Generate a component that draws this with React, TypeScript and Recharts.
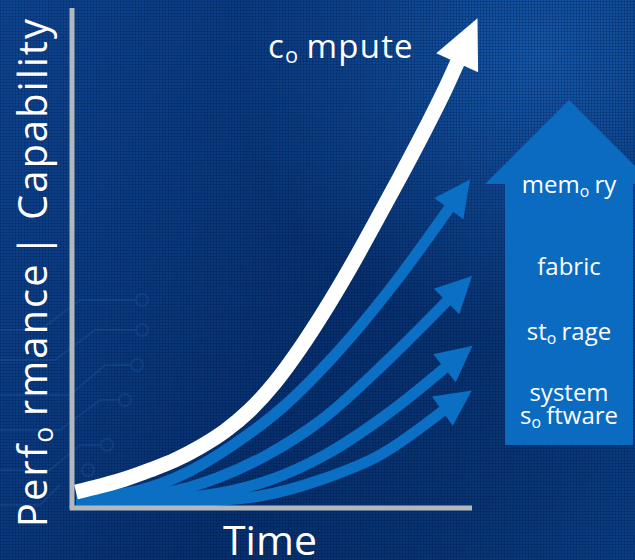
import React from 'react';
import { LineChart, Line, XAxis, YAxis, ReferenceLine, Customized } from 'recharts';

// time (0-100) and relative capability (0-100) for every trend line
const computeTime = [1, 7, 13.25, 19.5, 25.75, 32, 38.25, 44.5, 50.75, 57, 63.25, 69.5, 75.75, 82, 88.25, 93.25, 96.5];
const computeValue = [3.2, 4.4, 5.8, 7.6, 9.6, 12.2, 15.4, 19.6, 25.1, 31.9, 39.6, 48, 57, 66.2, 75.7, 83.7, 89.4];

const memoryTime = [1, 12, 22, 29.5, 40.25, 52.75, 65.25, 81.25, 94.5];
const memoryValue = [2.2, 2.8, 4.8, 7.4, 12.6, 20.2, 30.2, 45.6, 60.2];

const fabricTime = [1, 17, 29.5, 36.25, 48.75, 62, 79.5, 94];
const fabricValue = [1.8, 2.4, 4.2, 6, 10.6, 17.4, 30, 41.6];

const storageTime = [1, 22, 37, 49.5, 63.25, 79.5, 93.5];
const storageValue = [1.4, 1.8, 3, 5.6, 10.6, 19.2, 28.2];

const softwareTime = [1, 32, 47, 62, 77, 93];
const softwareValue = [1, 1.4, 2.4, 5.6, 10.6, 19.6];

const stackLabels = ['memory', 'fabric', 'storage', 'system software'];

const toRows = (t: number[], v: number[]) => t.map((x, i) => ({ t: x, v: v[i] }));

const WHITE = '#ffffff';
const BLUE = '#0b6fc4';
const AXIS = '#b3b8bd';
const FONT = '"Open Sans", "Noto Sans", sans-serif';

// the source font draws some "o" glyphs as small lowered letters
const subO = (text: string, size: number) => {
  const i = text.indexOf('o');
  if (i < 0) return text;
  return [
    <tspan key="a">{text.slice(0, i)}</tspan>,
    <tspan key="b" fontSize={size * 0.66} dy={size * 0.15}>o</tspan>,
    <tspan key="c" dx={size * 0.22} dy={-size * 0.15}>{text.slice(i + 1)}</tspan>,
  ];
};

// arrowhead on the last point of a line, pointing along the curve
const arrowHead = (len: number, half: number, color: string) => (props: any) => {
  const { index, cx, cy, points } = props;
  const n = points ? points.length : 0;
  if (!points || index !== n - 1 || n < 2) return <g key={`d-${index}`} />;
  const prev = points[n - 2];
  const dx = cx - prev.x;
  const dy = cy - prev.y;
  const d = Math.hypot(dx, dy) || 1;
  const ux = dx / d;
  const uy = dy / d;
  const pts = [
    [cx + ux * len, cy + uy * len],
    [cx - uy * half - ux * 2, cy + ux * half - uy * 2],
    [cx + uy * half - ux * 2, cy - ux * half - uy * 2],
  ]
    .map((p) => p.join(','))
    .join(' ');
  return <polygon key={`d-${index}`} points={pts} fill={color} />;
};

// faint circuit traces in the background
const Traces = () => (
  <g fill="none" stroke="#2a63ad" strokeOpacity={0.25} strokeWidth={2}>
    <path d="M0,330 L40,330 L80,300 L135,300" />
    <circle cx={142} cy={300} r={6} />
    <path d="M0,360 L55,360 L95,330 L135,330" />
    <circle cx={142} cy={330} r={6} />
    <path d="M0,395 L70,395 L105,365 L130,365" />
    <circle cx={137} cy={365} r={6} />
    <path d="M0,430 L60,430 L100,400 L118,400" />
    <circle cx={125} cy={400} r={6} />
    <path d="M0,470 L50,470 L80,445 L100,445" />
    <circle cx={107} cy={445} r={6} />
    <path d="M0,505 L40,505 L60,485" />
    <circle cx={88} cy={470} r={6} />
  </g>
);

const Decor = () => {
  const labelY = [193, 275, 340];
  return (
    <g fontFamily={FONT} fill={WHITE}>
      <polygon
        points="485,184 569,100 653,184 633,184 633,445 505,445 505,184"
        fill="#0a6bc0"
      />
      {stackLabels.slice(0, 3).map((s, i) => (
        <text key={s} x={569} y={labelY[i]} textAnchor="middle" fontSize={24}>
          {subO(s, 24)}
        </text>
      ))}
      <text x={569} y={401} textAnchor="middle" fontSize={24}>system</text>
      <text x={569} y={424} textAnchor="middle" fontSize={24}>
        {subO('software', 24)}
      </text>
      <text x={268} y={58} fontSize={33} letterSpacing={1.2}>
        {subO('compute', 33)}
      </text>
      <text
        transform="translate(47,272) rotate(-90)"
        textAnchor="middle"
        fontSize={40}
        letterSpacing={2}
      >
        {subO('Performance', 40)}
        <tspan dx={6}>|  Capability</tspan>
      </text>
      <text x={270} y={555} textAnchor="middle" fontSize={41}>
        Time
      </text>
    </g>
  );
};

export default function App() {
  const series = [
    { key: 'software', rows: toRows(softwareTime, softwareValue) },
    { key: 'storage', rows: toRows(storageTime, storageValue) },
    { key: 'fabric', rows: toRows(fabricTime, fabricValue) },
    { key: 'memory', rows: toRows(memoryTime, memoryValue) },
  ];

  return (
    <div
      style={{
        position: 'absolute',
        left: 0,
        top: 0,
        width: 635,
        height: 560,
        overflow: 'hidden',
        background:
          'repeating-linear-gradient(0deg, rgba(0,10,40,0.18) 0 1px, transparent 1px 3px),' +
          'repeating-linear-gradient(90deg, rgba(0,10,40,0.18) 0 1px, transparent 1px 3px),' +
          'radial-gradient(ellipse at 85% 10%, #1456a8 0%, rgba(20,86,168,0) 40%),' +
          'linear-gradient(120deg, #0d4693 0%, #093a80 30%, #06306f 55%, #073575 80%, #0a3e86 100%)',
      }}
    >
      <LineChart
        width={635}
        height={560}
        margin={{ top: 8, right: 163, bottom: 52, left: 72 }}
      >
        <Customized component={Traces} />
        <XAxis type="number" dataKey="t" domain={[0, 100]} hide />
        <YAxis type="number" dataKey="v" domain={[0, 100]} hide />
        <ReferenceLine x={0} stroke={AXIS} strokeWidth={5} ifOverflow="visible" />
        {series.map((s) => (
          <Line
            key={s.key}
            data={s.rows}
            dataKey="v"
            type="monotone"
            stroke={BLUE}
            strokeWidth={11}
            dot={arrowHead(34, 18, BLUE)}
            activeDot={false}
            isAnimationActive={false}
          />
        ))}
        <Line
          data={toRows(computeTime, computeValue)}
          dataKey="v"
          type="monotone"
          stroke={WHITE}
          strokeWidth={15}
          dot={arrowHead(47, 23, WHITE)}
          activeDot={false}
          isAnimationActive={false}
        />
        <ReferenceLine
          segment={[{ x: -0.6, y: 0 }, { x: 100, y: 0 }]}
          stroke={AXIS}
          strokeWidth={5}
          ifOverflow="visible"
        />
        <Customized component={Decor} />
      </LineChart>
    </div>
  );
}
